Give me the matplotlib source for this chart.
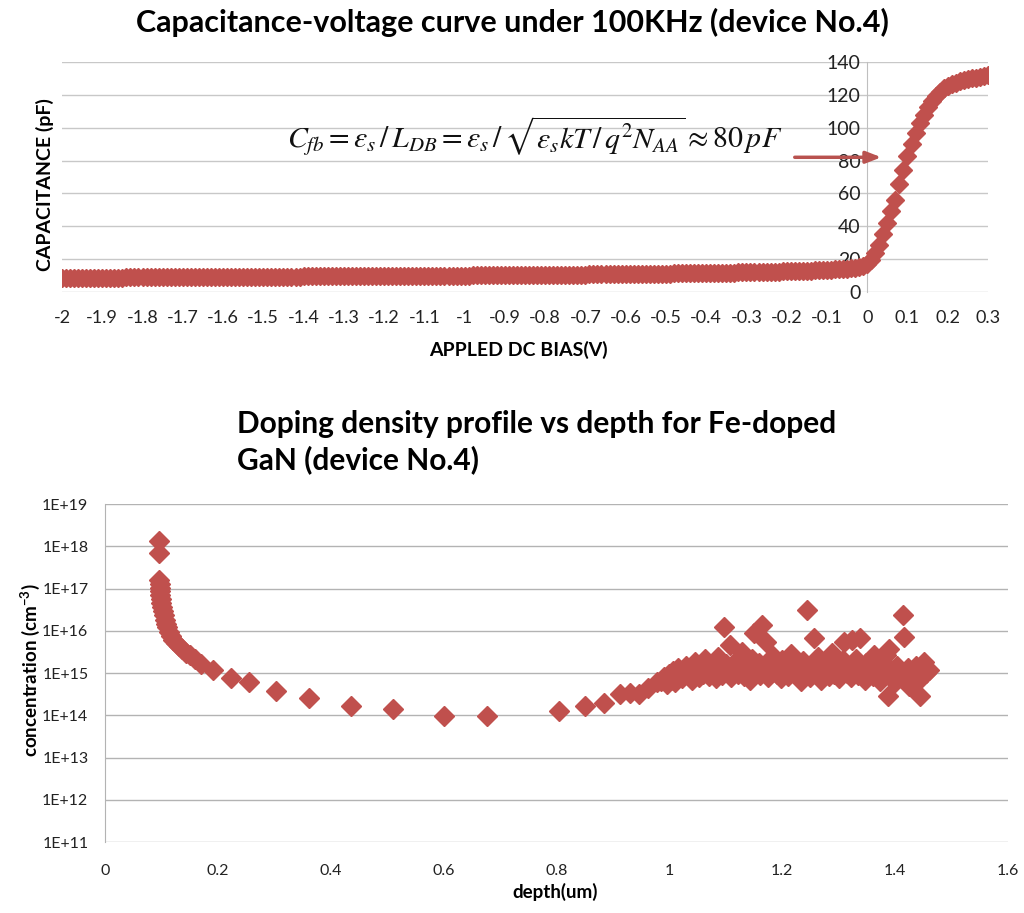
import numpy as np
import matplotlib.pyplot as plt
from matplotlib.ticker import FixedLocator, NullLocator

# curva C-V a 100 kHz, paso de 0.01 V entre -2 y 0.3 V
bias_v = np.round(np.arange(-2.0, 0.3001, 0.01), 2)
cap_pf = [
    8.5, 8.5, 8.5, 8.6, 8.6, 8.6, 8.6, 8.7, 8.7, 8.7,
    8.7, 8.8, 8.8, 8.8, 8.8, 8.8, 8.9, 8.9, 8.9, 8.9,
    8.9, 8.9, 9.0, 9.0, 9.0, 9.0, 9.0, 9.0, 9.0, 9.1,
    9.1, 9.1, 9.1, 9.1, 9.1, 9.1, 9.1, 9.2, 9.2, 9.2,
    9.2, 9.2, 9.2, 9.2, 9.2, 9.3, 9.3, 9.3, 9.3, 9.3,
    9.3, 9.3, 9.3, 9.4, 9.4, 9.4, 9.4, 9.4, 9.4, 9.4,
    9.5, 9.5, 9.5, 9.5, 9.5, 9.5, 9.5, 9.6, 9.6, 9.6,
    9.6, 9.6, 9.6, 9.6, 9.6, 9.7, 9.7, 9.7, 9.7, 9.7,
    9.7, 9.7, 9.8, 9.8, 9.8, 9.8, 9.8, 9.8, 9.8, 9.9,
    9.9, 9.9, 9.9, 9.9, 9.9, 9.9, 10.0, 10.0, 10.0, 10.0,
    10.0, 10.0, 10.1, 10.1, 10.1, 10.1, 10.1, 10.2, 10.2, 10.2,
    10.2, 10.2, 10.3, 10.3, 10.3, 10.3, 10.3, 10.4, 10.4, 10.4,
    10.4, 10.4, 10.5, 10.5, 10.5, 10.5, 10.6, 10.6, 10.6, 10.6,
    10.6, 10.7, 10.7, 10.7, 10.7, 10.8, 10.8, 10.8, 10.8, 10.9,
    10.9, 10.9, 10.9, 11.0, 11.0, 11.0, 11.1, 11.1, 11.1, 11.2,
    11.2, 11.2, 11.3, 11.3, 11.3, 11.4, 11.4, 11.4, 11.5, 11.5,
    11.5, 11.6, 11.6, 11.7, 11.7, 11.7, 11.8, 11.8, 11.9, 11.9,
    12.0, 12.0, 12.1, 12.1, 12.2, 12.2, 12.3, 12.3, 12.4, 12.5,
    12.5, 12.6, 12.7, 12.7, 12.8, 12.9, 13.0, 13.1, 13.2, 13.3,
    13.4, 13.5, 13.7, 13.8, 14.0, 14.2, 14.5, 14.8, 15.2, 15.8,
    17.0, 19.5, 23.5, 28.5, 35.0, 42.0, 49.0, 56.0, 66.0, 74.0,
    83.0, 90.0, 97.0, 103.0, 108.0, 112.5, 116.5, 119.5, 122.0, 124.0,
    125.5, 126.5, 127.5, 128.2, 128.8, 129.4, 130.0, 130.5, 131.0, 131.5,
    132.0,
]

# perfil de dopaje: profundidad (um) y concentracion (x1e14 cm^-3)
depth_um = [
    0.096, 0.096, 0.096, 0.097, 0.097, 0.098, 0.098, 0.099, 0.100, 0.101,
    0.102, 0.104, 0.106, 0.108, 0.110, 0.113, 0.117, 0.121, 0.126, 0.131,
    0.137, 0.144, 0.151, 0.160, 0.170, 0.192, 0.224, 0.256, 0.303, 0.362,
    0.436, 0.510, 0.600, 0.677, 0.804, 0.851, 0.885, 0.913, 0.930, 0.947,
    0.963, 0.978,
    0.985, 0.990, 0.995, 1.000, 1.003, 1.007, 1.010, 1.015, 1.018, 1.022,
    1.026, 1.030, 1.033, 1.037, 1.040, 1.045, 1.048, 1.052, 1.056, 1.060,
    1.063, 1.067, 1.070, 1.074, 1.078, 1.082, 1.086, 1.090, 1.093, 1.096,
    1.100, 1.103, 1.107, 1.110, 1.114, 1.118, 1.121, 1.125, 1.128, 1.132,
    1.136, 1.140, 1.143, 1.147, 1.150, 1.154, 1.158, 1.161, 1.164, 1.168,
    1.172, 1.175, 1.179, 1.183, 1.186, 1.190, 1.194, 1.197, 1.200, 1.204,
    1.208, 1.211, 1.215, 1.218, 1.222, 1.226, 1.229, 1.233, 1.236, 1.240,
    1.243, 1.247, 1.250, 1.254, 1.257, 1.261, 1.264, 1.268, 1.271, 1.275,
    1.278, 1.282, 1.285, 1.289, 1.292, 1.296, 1.300, 1.303, 1.307, 1.310,
    1.314, 1.317, 1.321, 1.324, 1.328, 1.331, 1.335, 1.338, 1.342, 1.346,
    1.349, 1.353, 1.356, 1.360, 1.363, 1.367, 1.370, 1.374, 1.378, 1.381,
    1.384, 1.387, 1.389, 1.393, 1.396, 1.400, 1.404, 1.408, 1.411, 1.414,
    1.415, 1.418, 1.422, 1.425, 1.429, 1.433, 1.437, 1.440, 1.444, 1.447,
    1.451, 1.455, 1.460,
]
conc_e14 = [
    13500, 6800, 1600, 1300, 1050, 850, 700, 560, 450, 360,
    290, 230, 180, 145, 120, 95, 76, 62, 51, 43,
    36, 30, 26, 21, 16, 11.5, 7.5, 6.2, 3.7, 2.6,
    1.65, 1.4, 0.98, 0.98, 1.25, 1.65, 2.0, 3.2, 3.3, 3.1,
    4.3, 6.2,
    6.5, 8.0, 5.5, 9.5, 7.0, 11, 6.0, 13, 8.5, 7.5,
    10, 15, 9.0, 12, 7.0, 18, 10, 8.0, 13, 9.5,
    21, 11, 8.5, 14, 10, 7.5, 24, 12, 9.0, 120,
    16, 10, 46, 8.0, 13, 19, 9.5, 11, 32, 8.5,
    15, 12, 7.0, 22, 87, 10, 17, 9.0, 140, 13,
    55, 8.0, 11, 25, 15, 9.5, 12, 7.5, 20, 10,
    14, 8.5, 28, 11, 16, 9.0, 13, 6.5, 19, 10,
    310, 12, 8.0, 17, 66, 10, 24, 7.0, 14, 11,
    18, 8.5, 13, 30, 9.5, 16, 7.5, 12, 20, 55,
    10, 14, 8.0, 60, 11, 22, 9.0, 66, 13, 7.0,
    17, 10, 12, 8.5, 26, 9.5, 14, 6.5, 11, 16,
    27, 2.8, 38, 8.0, 12, 6.0, 15, 9.0, 10, 230,
    72, 7.0, 13, 5.0, 11, 8.0, 15, 6.5, 2.9, 12,
    18.5, 10, 12,
]
conc_cm3 = np.array(conc_e14) * 1e14

rojo = '#C0504D'
gris = '#B3B3B3'
fuente = ['Lato', 'DejaVu Sans']
plt.rcParams['font.family'] = fuente
plt.rcParams['mathtext.fontset'] = 'stix'

fig = plt.figure(figsize=(10.24, 9.13), dpi=100)

# --- grafica C-V ---
ax1 = fig.add_axes([62 / 1024, 1 - 292 / 913, 926 / 1024, 230 / 913])
ax1.plot(bias_v, cap_pf, linestyle='none', marker='D', markersize=9,
         color=rojo, markeredgecolor=rojo, zorder=3)
ax1.set_xlim(-2.0, 0.3)
ax1.set_ylim(0, 140)
xt = np.round(np.arange(-2.0, 0.301, 0.1), 1)
ax1.xaxis.set_major_locator(FixedLocator(xt))
ax1.set_xticklabels([f'{v:g}' for v in xt])
ax1.set_yticks(np.arange(0, 141, 20))
ax1.grid(axis='y', color='#C8C8C8', linewidth=1)
ax1.set_axisbelow(True)
for s in ['top', 'right', 'bottom']:
    ax1.spines[s].set_visible(False)
ax1.spines['left'].set_position(('data', 0))
ax1.spines['left'].set_color('#BFBFBF')
ax1.tick_params(length=0, colors='#222222')
ax1.tick_params(axis='x', pad=13, labelsize=13)
ax1.tick_params(axis='y', pad=5, labelsize=14)
fig.text(512 / 1024, 1 - 22 / 913, 'Capacitance-voltage curve under 100KHz (device No.4)',
         ha='center', va='center', fontsize=22, fontweight='bold')
fig.text(45 / 1024, 1 - 185 / 913, 'CAPACITANCE (pF)', rotation=90,
         ha='center', va='center', fontsize=14, fontweight='bold')
fig.text(518 / 1024, 1 - 350 / 913, 'APPLED DC BIAS(V)',
         ha='center', va='center', fontsize=14, fontweight='bold')

formula = (r'$C_{fb}=\varepsilon_s\,/\,L_{DB}=\varepsilon_s\,/\,'
           r'\sqrt{\varepsilon_s kT\,/\,q^2N_{AA}}\approx 80\,pF$')
ax1.text(-1.44, 95, formula, fontsize=21.5, ha='left', va='center', color='#111111')
ax1.annotate('', xy=(0.035, 82), xytext=(-0.18, 82),
             arrowprops=dict(arrowstyle='-|>,head_length=0.9,head_width=0.35',
                             color='#B8524F', lw=2.5, shrinkA=0, shrinkB=0))

# --- perfil de dopaje ---
ax2 = fig.add_axes([105 / 1024, 1 - 842 / 913, 903 / 1024, 338 / 913])
ax2.plot(depth_um, conc_cm3, linestyle='none', marker='D', markersize=10,
         color=rojo, markeredgecolor=rojo, zorder=3)
ax2.set_yscale('log')
ax2.set_xlim(0, 1.6)
ax2.set_ylim(1e11, 1e19)
decadas = [10.0 ** k for k in range(11, 20)]
ax2.yaxis.set_major_locator(FixedLocator(decadas))
ax2.yaxis.set_minor_locator(NullLocator())
ax2.set_yticklabels([f'1E+{k}' for k in range(11, 20)])
xt2 = np.round(np.arange(0, 1.61, 0.2), 1)
ax2.set_xticks(xt2)
ax2.set_xticklabels([f'{v:g}' for v in xt2])
ax2.grid(axis='y', color=gris, linewidth=1)
ax2.set_axisbelow(True)
for s in ['top', 'right', 'bottom']:
    ax2.spines[s].set_visible(False)
ax2.spines['left'].set_color(gris)
ax2.tick_params(length=0, labelsize=11.5, colors='#222222')
ax2.tick_params(axis='x', pad=16)
ax2.tick_params(axis='y', pad=12)
fig.text(237 / 1024, 1 - 410 / 913,
         'Doping density profile vs depth for Fe-doped\nGaN (device No.4)',
         ha='left', va='top', fontsize=21.5, fontweight='bold', linespacing=1.32)
fig.text(30 / 1024, 1 - 670 / 913, r'concentration (cm$^{\mathregular{-3}}$)', rotation=90,
         ha='center', va='center', fontsize=13.5, fontweight='bold')
fig.text(555 / 1024, 1 - 892 / 913, 'depth(um)',
         ha='center', va='center', fontsize=13.5, fontweight='bold')

fig.savefig('out.png', dpi=100)
